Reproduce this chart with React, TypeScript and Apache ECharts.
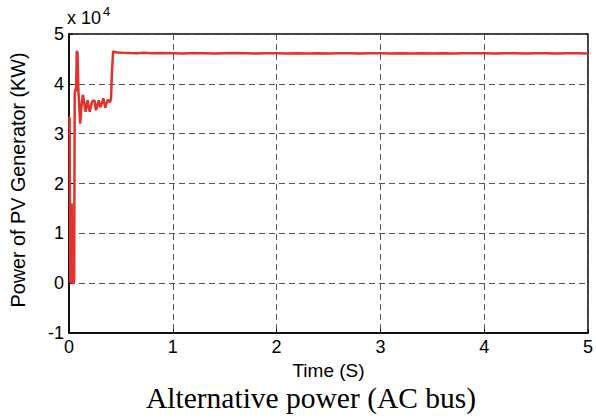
import React, { useEffect, useRef } from "react";
import * as echarts from "echarts";

// Time (s)
const timeS = [
  0, 0.006, 0.012, 0.018, 0.022, 0.026, 0.03, 0.038, 0.046, 0.05, 0.055, 0.062, 0.068, 0.075, 0.082,
  0.09, 0.1, 0.108, 0.12, 0.133, 0.146, 0.159, 0.17, 0.18, 0.19, 0.2, 0.212, 0.224, 0.245, 0.26,
  0.273, 0.286, 0.3, 0.315, 0.33, 0.35, 0.362, 0.375, 0.394, 0.405, 0.413, 0.425, 0.44, 0.47,
  0.52, 0.58, 0.65, 0.72, 0.8, 0.9, 1.0, 1.1, 1.2, 1.3, 1.4, 1.5, 1.6, 1.7, 1.8, 1.9, 2.0, 2.1,
  2.2, 2.3, 2.4, 2.5, 2.6, 2.7, 2.8, 2.9, 3.0, 3.1, 3.2, 3.3, 3.4, 3.5, 3.6, 3.7, 3.8, 3.9, 4.0,
  4.1, 4.2, 4.3, 4.4, 4.5, 4.6, 4.7, 4.8, 4.9, 5.0,
];
// Power of PV generator (kW)
const powerKW = [
  33400, 33000, 500, 0, 15500, 16000, 800, 0, 0, 1000, 38000, 39000, 38500, 46600, 46200,
  39000, 35000, 32000, 35500, 37800, 36200, 34400, 35800, 36700, 35200, 34400, 35600, 36500, 36700, 34700,
  35700, 36700, 35300, 36000, 37100, 35200, 36100, 36800, 36300, 37000, 42100, 46500, 46400, 46300,
  46250, 46200, 46150, 46250, 46150, 46200, 46150, 46100, 46200, 46150, 46100, 46150, 46200, 46150, 46100, 46150, 46150, 46100,
  46150, 46100, 46150, 46100, 46150, 46150, 46100, 46150, 46150, 46100, 46150, 46100, 46150, 46100, 46150, 46100, 46150, 46150, 46150,
  46100, 46150, 46150, 46100, 46150, 46150, 46100, 46150, 46150, 46100,
];
const xTicks = [0, 1, 2, 3, 4, 5];
const yTicks = [-1, 0, 1, 2, 3, 4, 5];
const yScale = 10000;

export default function App() {
  const ref = useRef<HTMLDivElement>(null);
  useEffect(() => {
    if (!ref.current) return;
    const chart = echarts.init(ref.current, null, { renderer: "svg" });
    const font = "Liberation Sans, Arial, sans-serif";
    chart.setOption({
      animation: false,
      backgroundColor: "#ffffff",
      grid: {
        left: 68,
        right: 3,
        top: 34,
        bottom: 87,
        show: true,
        borderColor: "#000",
        borderWidth: 1.5,
        backgroundColor: "transparent",
      },
      xAxis: {
        type: "value",
        min: xTicks[0],
        max: xTicks[xTicks.length - 1],
        interval: 1,
        name: "Time (S)",
        nameLocation: "middle",
        nameGap: 26,
        nameTextStyle: { fontFamily: font, fontSize: 19, color: "#000" },
        axisLine: { show: true, onZero: false, lineStyle: { color: "#000", width: 1.5 } },
        axisTick: { show: true, inside: true, length: 4, lineStyle: { color: "#000" } },
        axisLabel: { fontFamily: font, fontSize: 18, color: "#000", margin: 5 },
        splitLine: { show: true, lineStyle: { color: "#555", type: [6, 4], width: 1 } },
      },
      yAxis: {
        type: "value",
        min: yTicks[0] * yScale,
        max: yTicks[yTicks.length - 1] * yScale,
        interval: yScale,
        name: "Power of PV Generator (KW)",
        nameLocation: "middle",
        nameGap: 41,
        nameTextStyle: { fontFamily: font, fontSize: 19.8, color: "#000", padding: [0, 0, 0, 7] },
        axisLine: { show: true, onZero: false, lineStyle: { color: "#000", width: 1.5 } },
        axisTick: { show: true, inside: true, length: 4, lineStyle: { color: "#000" } },
        axisLabel: {
          fontFamily: font,
          fontSize: 18,
          color: "#000",
          margin: 5,
          formatter: (v: number) => String(Math.round(v / yScale)),
        },
        splitLine: { show: true, lineStyle: { color: "#555", type: [6, 4], width: 1 } },
      },
      graphic: [
        {
          type: "text",
          left: 67,
          top: 5,
          style: {
            text: "{a|x 10}{b|4}",
            rich: {
              a: { fontFamily: font, fontSize: 18, fill: "#000", verticalAlign: "bottom", lineHeight: 22 },
              b: { fontFamily: font, fontSize: 13, fill: "#000", verticalAlign: "top", lineHeight: 22, padding: [0, 0, 12, 2] },
            },
          },
        },
        {
          type: "text",
          left: 146,
          top: 383,
          style: {
            text: "Alternative power (AC bus)",
            fontFamily: "Liberation Serif, Times New Roman, serif",
            fontSize: 29.5,
            fill: "#000",
          },
        },
      ],
      series: [
        {
          type: "line",
          data: timeS.map((t, i) => [t, powerKW[i]]),
          showSymbol: false,
          symbol: "none",
          lineStyle: { color: "#e2322a", width: 2.5 },
          z: 5,
        },
      ],
    });
    return () => chart.dispose();
  }, []);
  return <div ref={ref} style={{ width: 596, height: 420, position: "absolute", left: 0, top: 0 }} />;
}
